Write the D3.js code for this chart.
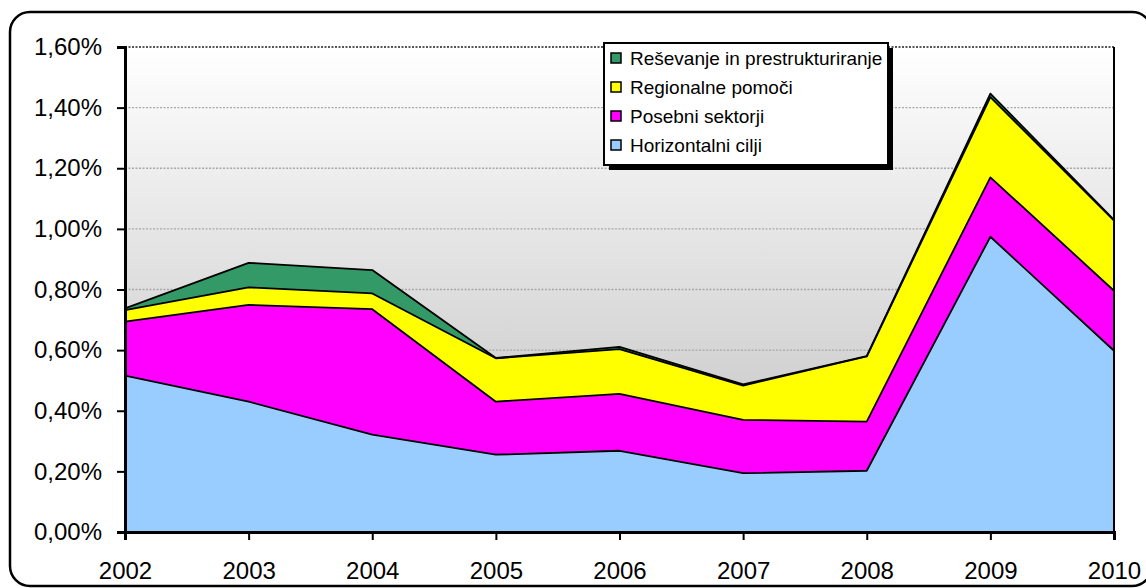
<!DOCTYPE html>
<html>
<head>
<meta charset="utf-8">
<script src="https://cdn.jsdelivr.net/npm/d3@7"></script>
<style>
  body { margin: 0; background: #fff; }
  svg { display: block; font-family: Arial, "Liberation Sans", sans-serif; }
</style>
</head>
<body>
<svg></svg>
<script>
// Data (shares in %)
const years = [2002, 2003, 2004, 2005, 2006, 2007, 2008, 2009, 2010];
const horizontalni = [0.516, 0.430, 0.321, 0.255, 0.268, 0.194, 0.202, 0.974, 0.598];
const posebni = [0.178, 0.319, 0.414, 0.175, 0.188, 0.176, 0.162, 0.196, 0.198];
const regionalne = [0.038, 0.058, 0.052, 0.143, 0.147, 0.113, 0.215, 0.265, 0.231];
const resevanje = [0.006, 0.081, 0.077, 0.001, 0.008, 0.004, 0.001, 0.011, 0.003];
const yTicks = [0, 0.2, 0.4, 0.6, 0.8, 1.0, 1.2, 1.4, 1.6];

const seriesNames = ["Horizontalni cilji", "Posebni sektorji", "Regionalne pomoči", "Reševanje in prestrukturiranje"];
const seriesColors = ["#99ccff", "#ff00ff", "#ffff00", "#339966"];

const width = 1146, height = 588;
const svg = d3.select("svg").attr("width", width).attr("height", height);

// Outer rounded frame
svg.append("rect")
    .attr("x", 10).attr("y", 12)
    .attr("width", 1142).attr("height", 574)
    .attr("rx", 20)
    .attr("fill", "#fff")
    .attr("stroke", "#000")
    .attr("stroke-width", 2.5);

// Plot area
const plot = { left: 125, right: 1114, top: 47, bottom: 532 };

const x = d3.scaleLinear().domain([2002, 2010]).range([plot.left, plot.right]);
const y = d3.scaleLinear().domain([0, 1.6]).range([plot.bottom, plot.top]);

// Background gradient
const defs = svg.append("defs");
const grad = defs.append("linearGradient")
    .attr("id", "bg").attr("x1", 0).attr("y1", 0).attr("x2", 0).attr("y2", 1);
grad.append("stop").attr("offset", "0%").attr("stop-color", "#ffffff");
grad.append("stop").attr("offset", "100%").attr("stop-color", "#bdbdbd");

svg.append("rect")
    .attr("x", plot.left).attr("y", plot.top)
    .attr("width", plot.right - plot.left).attr("height", plot.bottom - plot.top)
    .attr("fill", "url(#bg)");

// Gridlines
svg.append("g")
    .selectAll("line")
    .data(yTicks.slice(1))
    .join("line")
    .attr("x1", plot.left).attr("x2", plot.right)
    .attr("y1", d => y(d)).attr("y2", d => y(d))
    .attr("stroke", d => d === 1.6 ? "#555" : "#a8a8a8")
    .attr("stroke-width", d => d === 1.6 ? 2 : 1.3)
    .attr("stroke-dasharray", "2,1.5");

// Stacked areas
const table = years.map((yr, i) => ({
    year: yr,
    h: horizontalni[i], p: posebni[i], r: regionalne[i], s: resevanje[i]
}));
const stack = d3.stack().keys(["h", "p", "r", "s"]);
const layers = stack(table);

const area = d3.area()
    .x(d => x(d.data.year))
    .y0(d => y(d[0]))
    .y1(d => y(d[1]));

const line = d3.line()
    .x(d => x(d.data.year))
    .y(d => y(d[1]));

svg.append("g")
    .selectAll("path")
    .data(layers)
    .join("path")
    .attr("d", area)
    .attr("fill", (d, i) => seriesColors[i]);

svg.append("g")
    .selectAll("path")
    .data(layers)
    .join("path")
    .attr("d", line)
    .attr("fill", "none")
    .attr("stroke", "#000")
    .attr("stroke-width", 1.8)
    .attr("stroke-linejoin", "round");

// Right border of plot area
svg.append("line")
    .attr("x1", plot.right).attr("x2", plot.right)
    .attr("y1", plot.top).attr("y2", plot.bottom)
    .attr("stroke", "#000").attr("stroke-width", 2);

// Y axis
const yAxis = d3.axisLeft(y)
    .tickValues(yTicks)
    .tickSize(8)
    .tickPadding(15)
    .tickFormat(d => d3.format(".2f")(d).replace(".", ",") + "%");
const gy = svg.append("g").attr("transform", `translate(${plot.left},0)`).call(yAxis);
gy.select(".domain").attr("stroke-width", 3);
gy.selectAll(".tick line").attr("stroke-width", 2);
gy.selectAll("text").attr("font-size", 24).attr("font-family", "Arial, 'Liberation Sans', sans-serif").attr("fill", "#000");

// X axis
const xAxis = d3.axisBottom(x)
    .tickValues(years)
    .tickSize(8)
    .tickPadding(22)
    .tickFormat(d3.format("d"));
const gx = svg.append("g").attr("transform", `translate(0,${plot.bottom})`).call(xAxis);
gx.select(".domain").attr("stroke-width", 3);
gx.selectAll(".tick line").attr("stroke-width", 2);
gx.selectAll("text").attr("font-size", 24).attr("font-family", "Arial, 'Liberation Sans', sans-serif").attr("fill", "#000");

// Legend
const lg = { x: 604, y: 43, w: 284, h: 122 };
svg.append("rect")
    .attr("x", lg.x + 5).attr("y", lg.y + 5)
    .attr("width", lg.w).attr("height", lg.h)
    .attr("fill", "#000");
svg.append("rect")
    .attr("x", lg.x).attr("y", lg.y)
    .attr("width", lg.w).attr("height", lg.h)
    .attr("fill", "#fff")
    .attr("stroke", "#000").attr("stroke-width", 2);

const legendOrder = [3, 2, 1, 0];
const items = svg.append("g")
    .selectAll("g")
    .data(legendOrder)
    .join("g")
    .attr("transform", (d, i) => `translate(${lg.x + 7},${lg.y + 15 + i * 29})`);
items.append("rect")
    .attr("x", 0).attr("y", -5)
    .attr("width", 10).attr("height", 10)
    .attr("fill", d => seriesColors[d])
    .attr("stroke", "#000").attr("stroke-width", 1.5);
items.append("text")
    .attr("x", 19).attr("y", 0)
    .attr("dy", "0.35em")
    .attr("font-size", 19)
    .text(d => seriesNames[d]);
</script>
</body>
</html>
